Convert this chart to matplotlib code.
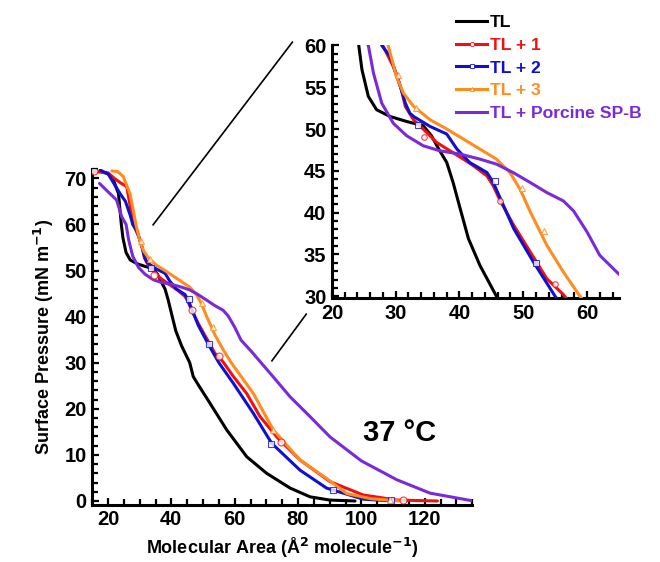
import matplotlib
matplotlib.use('Agg')
import matplotlib.pyplot as plt
from matplotlib.ticker import MultipleLocator
from matplotlib.lines import Line2D

plt.rcParams['font.family'] = ['Liberation Sans', 'DejaVu Sans']
plt.rcParams['font.weight'] = 'bold'
plt.rcParams['xtick.direction'] = 'in'
plt.rcParams['ytick.direction'] = 'in'

# isotherms: molecular area (A^2/molecule) vs surface pressure (mN/m)
tl_x = [17.5, 20, 21.7, 23.3, 24.2, 24.7, 25.7, 27.0, 29.1, 31.7, 34.3, 35.6, 36.9, 38.0,
        39.0, 40.1, 41.4, 43.2, 45.8, 46.9, 48.5, 52.2, 57.5, 63.8, 70.1, 77.5, 83.8, 90, 98]
tl_y = [71.5, 71, 69.6, 66.7, 60, 57.1, 53.9, 52.3, 51.5, 50.9, 50.4, 49.2, 47.4, 46.0,
        43.6, 40.5, 36.9, 33.7, 30.0, 27.0, 25.2, 21.2, 15.4, 9.6, 6.0, 2.8, 0.9, 0.2, 0]

tl1_x = [15.5, 20, 22, 24, 25.9, 27.0, 27.95, 29.6, 30.9, 31.5, 32.8, 34.3, 36.4, 38.5, 40.6,
         42.2, 44.3, 45.3, 46.4, 48.5, 51.1, 53.7, 56.3, 59.6, 63.8, 68, 73.3, 80.6, 90.1,
         100.6, 111.2, 124]
tl1_y = [71.5, 71.2, 70, 69, 68.2, 64, 60, 57.5, 54.7, 52.7, 51.1, 50.0, 48.4, 47.4, 46.4,
         45.6, 44.4, 43.2, 41.4, 38.5, 35.3, 32.1, 30.2, 27.0, 23.3, 18.3, 13.9, 8.9, 4.2,
         1.3, 0.2, 0]

tl2_x = [17.5, 20, 22.2, 23.8, 25.5, 27.0, 27.8, 29.1, 30.4, 31.5, 32.2, 32.8, 35.4, 38.0,
         39.6, 41.6, 44.3, 45.3, 48.5, 51.6, 55.0, 59.6, 65.9, 71.7, 80.6, 89, 100.6, 110]
tl2_y = [71.8, 71, 68.5, 66.7, 65.0, 62, 60, 58.7, 55.9, 53.1, 51.9, 51.5, 50.3, 49.4,
         47.6, 46.0, 44.8, 43.6, 38.1, 34.1, 30, 25.5, 19.0, 12.5, 6.7, 2.8, 0.4, 0]

tl3_x = [21.2, 23, 24.8, 26.9, 28, 28.8, 30.1, 31.2, 32.8, 35.4, 38.0, 40.6, 43.2, 45.8,
         47.9, 49.5, 51.1, 53.7, 56.3, 58.9, 65.9, 72.2, 80.6, 89, 95.4, 103, 112]
tl3_y = [71.6, 71.5, 70.4, 66.7, 63, 60, 56.3, 54.3, 52.7, 51.1, 50.0, 48.8, 47.6, 46.4,
         44.8, 42.8, 40.1, 36.1, 32.9, 30, 23.3, 15.4, 8.9, 4.9, 1.6, 0.5, 0]

spb_x = [17.3, 20.6, 22.7, 24.3, 25.7, 26.5, 27.8, 29.6, 31.7, 34.3, 36.9, 40.1, 43.2, 45.8,
         48.4, 51.1, 53.7, 56.3, 57.9, 60.0, 62.0, 65.2, 71.7, 77.5, 83.8, 90.1, 100, 111.2,
         121.7, 135.4]
spb_y = [68.9, 66.7, 65.3, 61.7, 60, 56.7, 53.1, 50.7, 49.2, 48.0, 47.4, 47.0, 46.4, 45.8,
         44.8, 43.6, 42.4, 41.4, 40.2, 37.7, 34.9, 32.5, 27.3, 22.6, 18.3, 13.9, 8.7, 4.6,
         1.7, 0]

# hollow symbols sitting on the curves
tl1_mx = [15.5, 34.5, 46.4, 55.0, 74.6, 113]
tl1_my = [71.5, 49.0, 41.4, 31.5, 12.9, 0.3]
tl2_mx = [33.5, 45.5, 52.0, 71.5, 91.0, 109.5]
tl2_my = [50.5, 43.8, 34.0, 12.3, 2.4, 0.3]
tl3_mx = [30.3, 33.2, 49.8, 53.2, 72.0, 109.0]
tl3_my = [56.5, 52.5, 42.9, 37.8, 15.5, 0.3]

series = [
    ('TL', tl_x, tl_y, None, None, 'black', None),
    ('TL + 1', tl1_x, tl1_y, tl1_mx, tl1_my, '#f01010', 'o'),
    ('TL + 2', tl2_x, tl2_y, tl2_mx, tl2_my, '#1010d0', 's'),
    ('TL + 3', tl3_x, tl3_y, tl3_mx, tl3_my, '#ff8c1e', '^'),
    ('TL + Porcine SP-B', spb_x, spb_y, None, None, '#7a2ad8', None),
]

fig = plt.figure(figsize=(6.6, 5.62), dpi=100)
ax = fig.add_axes([0.1397, 0.102, 0.5758, 0.597])
axin = fig.add_axes([0.503, 0.4698, 0.4347, 0.4495])


def draw(a, ms):
    for name, x, y, mx, my, c, m in series:
        a.plot(x, y, color=c, lw=2.2, solid_capstyle='round', solid_joinstyle='round',
               zorder=3)
        if mx is not None:
            a.plot(mx, my, ls='none', marker=m, ms=ms, mfc='white', mec=c,
                   mew=0.8, alpha=0.8, zorder=4)


def style(a):
    for s in ['top', 'right']:
        a.spines[s].set_visible(False)
    for s in ['left', 'bottom']:
        a.spines[s].set_linewidth(2.2)
    a.tick_params(which='major', length=5, width=1.6, labelsize=14.5, pad=4)
    a.tick_params(which='minor', length=4, width=1.6)
    for lab in a.get_xticklabels() + a.get_yticklabels():
        lab.set_fontweight('bold')


draw(ax, 5)
ax.set_xlim(15, 135)
ax.set_ylim(-0.8, 72)
ax.xaxis.set_major_locator(MultipleLocator(20))
ax.xaxis.set_minor_locator(MultipleLocator(5))
ax.yaxis.set_major_locator(MultipleLocator(10))
ax.yaxis.set_minor_locator(MultipleLocator(2))
style(ax)
ax.set_xlabel('Molecular Area (Å$^\\mathbf{2}$ molecule$^\\mathbf{-1}$)', fontsize=13,
              fontweight='bold', labelpad=5)
ax.set_ylabel('Surface Pressure (mN m$^\\mathbf{-1}$)', fontsize=13,
              fontweight='bold', labelpad=6)
ax.text(0.81, 0.215, '37 °C', transform=ax.transAxes, ha='center',
        va='center', fontsize=21, fontweight='bold')

draw(axin, 4)
axin.set_xlim(20, 65)
axin.set_ylim(29.8, 60)
axin.xaxis.set_major_locator(MultipleLocator(10))
axin.xaxis.set_minor_locator(MultipleLocator(2))
axin.yaxis.set_major_locator(MultipleLocator(5))
axin.yaxis.set_minor_locator(MultipleLocator(1))
style(axin)

# zoom guide lines
fig.add_artist(Line2D([0.232, 0.443], [0.600, 0.925], color='black', lw=1.2))
fig.add_artist(Line2D([0.412, 0.464], [0.358, 0.441], color='black', lw=1.2))

handles = []
for name, x, y, mx, my, c, m in series:
    h = Line2D([], [], color=c, lw=2.2, marker=m, ms=3, mfc='white', mec=c, mew=0.6)
    handles.append(h)
leg = fig.legend(handles, [s[0] for s in series], loc='upper left',
                 bbox_to_anchor=(0.672, 0.995), frameon=False,
                 handlelength=1.8, handletextpad=0.15, labelspacing=0.42,
                 borderpad=0.2, prop={'weight': 'bold', 'size': 12.6})
for t, s in zip(leg.get_texts(), series):
    t.set_color(s[5])

fig.savefig('out.png', dpi=100)
